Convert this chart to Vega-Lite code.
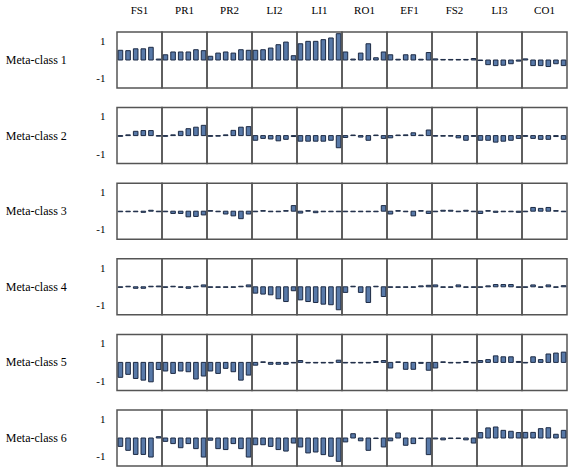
{
  "$schema": "https://vega.github.io/schema/vega-lite/v6.json",
  "padding": {"left": 5, "top": 5, "right": 2, "bottom": 2},
  "bounds": "flush",
  "data": {"values": [
    {"m":"Meta-class 1","a":"FS1","i":1,"v":0.52},{"m":"Meta-class 1","a":"FS1","i":2,"v":0.5},{"m":"Meta-class 1","a":"FS1","i":3,"v":0.6},{"m":"Meta-class 1","a":"FS1","i":4,"v":0.6},{"m":"Meta-class 1","a":"FS1","i":5,"v":0.68},{"m":"Meta-class 1","a":"FS1","i":6,"v":0.05},
    {"m":"Meta-class 1","a":"PR1","i":1,"v":0.28},{"m":"Meta-class 1","a":"PR1","i":2,"v":0.43},{"m":"Meta-class 1","a":"PR1","i":3,"v":0.43},{"m":"Meta-class 1","a":"PR1","i":4,"v":0.43},{"m":"Meta-class 1","a":"PR1","i":5,"v":0.55},{"m":"Meta-class 1","a":"PR1","i":6,"v":0.5},
    {"m":"Meta-class 1","a":"PR2","i":1,"v":0.2},{"m":"Meta-class 1","a":"PR2","i":2,"v":0.37},{"m":"Meta-class 1","a":"PR2","i":3,"v":0.43},{"m":"Meta-class 1","a":"PR2","i":4,"v":0.37},{"m":"Meta-class 1","a":"PR2","i":5,"v":0.55},{"m":"Meta-class 1","a":"PR2","i":6,"v":0.52},
    {"m":"Meta-class 1","a":"LI2","i":1,"v":0.52},{"m":"Meta-class 1","a":"LI2","i":2,"v":0.55},{"m":"Meta-class 1","a":"LI2","i":3,"v":0.64},{"m":"Meta-class 1","a":"LI2","i":4,"v":0.82},{"m":"Meta-class 1","a":"LI2","i":5,"v":0.96},{"m":"Meta-class 1","a":"LI2","i":6,"v":0.23},
    {"m":"Meta-class 1","a":"LI1","i":1,"v":0.87},{"m":"Meta-class 1","a":"LI1","i":2,"v":1.0},{"m":"Meta-class 1","a":"LI1","i":3,"v":1.0},{"m":"Meta-class 1","a":"LI1","i":4,"v":1.09},{"m":"Meta-class 1","a":"LI1","i":5,"v":1.18},{"m":"Meta-class 1","a":"LI1","i":6,"v":1.41},
    {"m":"Meta-class 1","a":"RO1","i":1,"v":0.43},{"m":"Meta-class 1","a":"RO1","i":2,"v":0.05},{"m":"Meta-class 1","a":"RO1","i":3,"v":0.37},{"m":"Meta-class 1","a":"RO1","i":4,"v":0.87},{"m":"Meta-class 1","a":"RO1","i":5,"v":0.12},{"m":"Meta-class 1","a":"RO1","i":6,"v":0.43},
    {"m":"Meta-class 1","a":"EF1","i":1,"v":0.28},{"m":"Meta-class 1","a":"EF1","i":2,"v":0.04},{"m":"Meta-class 1","a":"EF1","i":3,"v":0.28},{"m":"Meta-class 1","a":"EF1","i":4,"v":0.28},{"m":"Meta-class 1","a":"EF1","i":5,"v":0.04},{"m":"Meta-class 1","a":"EF1","i":6,"v":0.4},
    {"m":"Meta-class 1","a":"FS2","i":1,"v":0.06},{"m":"Meta-class 1","a":"FS2","i":2,"v":0.03},{"m":"Meta-class 1","a":"FS2","i":3,"v":0.03},{"m":"Meta-class 1","a":"FS2","i":4,"v":0.03},{"m":"Meta-class 1","a":"FS2","i":5,"v":0.03},{"m":"Meta-class 1","a":"FS2","i":6,"v":0.08},
    {"m":"Meta-class 1","a":"LI3","i":1,"v":-0.03},{"m":"Meta-class 1","a":"LI3","i":2,"v":-0.25},{"m":"Meta-class 1","a":"LI3","i":3,"v":-0.3},{"m":"Meta-class 1","a":"LI3","i":4,"v":-0.28},{"m":"Meta-class 1","a":"LI3","i":5,"v":-0.2},{"m":"Meta-class 1","a":"LI3","i":6,"v":-0.06},
    {"m":"Meta-class 1","a":"CO1","i":1,"v":0.06},{"m":"Meta-class 1","a":"CO1","i":2,"v":-0.3},{"m":"Meta-class 1","a":"CO1","i":3,"v":-0.3},{"m":"Meta-class 1","a":"CO1","i":4,"v":-0.35},{"m":"Meta-class 1","a":"CO1","i":5,"v":-0.2},{"m":"Meta-class 1","a":"CO1","i":6,"v":-0.3},

    {"m":"Meta-class 2","a":"FS1","i":1,"v":-0.04},{"m":"Meta-class 2","a":"FS1","i":2,"v":0.04},{"m":"Meta-class 2","a":"FS1","i":3,"v":0.23},{"m":"Meta-class 2","a":"FS1","i":4,"v":0.27},{"m":"Meta-class 2","a":"FS1","i":5,"v":0.27},{"m":"Meta-class 2","a":"FS1","i":6,"v":-0.03},
    {"m":"Meta-class 2","a":"PR1","i":1,"v":-0.04},{"m":"Meta-class 2","a":"PR1","i":2,"v":0.04},{"m":"Meta-class 2","a":"PR1","i":3,"v":0.23},{"m":"Meta-class 2","a":"PR1","i":4,"v":0.37},{"m":"Meta-class 2","a":"PR1","i":5,"v":0.45},{"m":"Meta-class 2","a":"PR1","i":6,"v":0.55},
    {"m":"Meta-class 2","a":"PR2","i":1,"v":-0.04},{"m":"Meta-class 2","a":"PR2","i":2,"v":-0.03},{"m":"Meta-class 2","a":"PR2","i":3,"v":0.04},{"m":"Meta-class 2","a":"PR2","i":4,"v":0.28},{"m":"Meta-class 2","a":"PR2","i":5,"v":0.45},{"m":"Meta-class 2","a":"PR2","i":6,"v":0.48},
    {"m":"Meta-class 2","a":"LI2","i":1,"v":-0.25},{"m":"Meta-class 2","a":"LI2","i":2,"v":-0.15},{"m":"Meta-class 2","a":"LI2","i":3,"v":-0.18},{"m":"Meta-class 2","a":"LI2","i":4,"v":-0.28},{"m":"Meta-class 2","a":"LI2","i":5,"v":-0.2},{"m":"Meta-class 2","a":"LI2","i":6,"v":-0.05},
    {"m":"Meta-class 2","a":"LI1","i":1,"v":-0.3},{"m":"Meta-class 2","a":"LI1","i":2,"v":-0.3},{"m":"Meta-class 2","a":"LI1","i":3,"v":-0.3},{"m":"Meta-class 2","a":"LI1","i":4,"v":-0.3},{"m":"Meta-class 2","a":"LI1","i":5,"v":-0.25},{"m":"Meta-class 2","a":"LI1","i":6,"v":-0.65},
    {"m":"Meta-class 2","a":"RO1","i":1,"v":-0.1},{"m":"Meta-class 2","a":"RO1","i":2,"v":0.03},{"m":"Meta-class 2","a":"RO1","i":3,"v":-0.08},{"m":"Meta-class 2","a":"RO1","i":4,"v":-0.25},{"m":"Meta-class 2","a":"RO1","i":5,"v":0.03},{"m":"Meta-class 2","a":"RO1","i":6,"v":-0.15},
    {"m":"Meta-class 2","a":"EF1","i":1,"v":-0.12},{"m":"Meta-class 2","a":"EF1","i":2,"v":0.03},{"m":"Meta-class 2","a":"EF1","i":3,"v":0.04},{"m":"Meta-class 2","a":"EF1","i":4,"v":0.15},{"m":"Meta-class 2","a":"EF1","i":5,"v":0.03},{"m":"Meta-class 2","a":"EF1","i":6,"v":0.3},
    {"m":"Meta-class 2","a":"FS2","i":1,"v":-0.03},{"m":"Meta-class 2","a":"FS2","i":2,"v":-0.03},{"m":"Meta-class 2","a":"FS2","i":3,"v":-0.03},{"m":"Meta-class 2","a":"FS2","i":4,"v":-0.12},{"m":"Meta-class 2","a":"FS2","i":5,"v":-0.25},{"m":"Meta-class 2","a":"FS2","i":6,"v":-0.04},
    {"m":"Meta-class 2","a":"LI3","i":1,"v":-0.25},{"m":"Meta-class 2","a":"LI3","i":2,"v":-0.25},{"m":"Meta-class 2","a":"LI3","i":3,"v":-0.35},{"m":"Meta-class 2","a":"LI3","i":4,"v":-0.3},{"m":"Meta-class 2","a":"LI3","i":5,"v":-0.25},{"m":"Meta-class 2","a":"LI3","i":6,"v":-0.15},
    {"m":"Meta-class 2","a":"CO1","i":1,"v":-0.04},{"m":"Meta-class 2","a":"CO1","i":2,"v":-0.15},{"m":"Meta-class 2","a":"CO1","i":3,"v":-0.2},{"m":"Meta-class 2","a":"CO1","i":4,"v":-0.2},{"m":"Meta-class 2","a":"CO1","i":5,"v":-0.05},{"m":"Meta-class 2","a":"CO1","i":6,"v":-0.2},

    {"m":"Meta-class 3","a":"FS1","i":1,"v":-0.03},{"m":"Meta-class 3","a":"FS1","i":2,"v":-0.03},{"m":"Meta-class 3","a":"FS1","i":3,"v":-0.03},{"m":"Meta-class 3","a":"FS1","i":4,"v":-0.06},{"m":"Meta-class 3","a":"FS1","i":5,"v":0.05},{"m":"Meta-class 3","a":"FS1","i":6,"v":-0.03},
    {"m":"Meta-class 3","a":"PR1","i":1,"v":-0.03},{"m":"Meta-class 3","a":"PR1","i":2,"v":-0.12},{"m":"Meta-class 3","a":"PR1","i":3,"v":-0.12},{"m":"Meta-class 3","a":"PR1","i":4,"v":-0.3},{"m":"Meta-class 3","a":"PR1","i":5,"v":-0.28},{"m":"Meta-class 3","a":"PR1","i":6,"v":-0.2},
    {"m":"Meta-class 3","a":"PR2","i":1,"v":0.03},{"m":"Meta-class 3","a":"PR2","i":2,"v":-0.03},{"m":"Meta-class 3","a":"PR2","i":3,"v":-0.15},{"m":"Meta-class 3","a":"PR2","i":4,"v":-0.25},{"m":"Meta-class 3","a":"PR2","i":5,"v":-0.4},{"m":"Meta-class 3","a":"PR2","i":6,"v":-0.15},
    {"m":"Meta-class 3","a":"LI2","i":1,"v":-0.03},{"m":"Meta-class 3","a":"LI2","i":2,"v":0.03},{"m":"Meta-class 3","a":"LI2","i":3,"v":-0.03},{"m":"Meta-class 3","a":"LI2","i":4,"v":-0.03},{"m":"Meta-class 3","a":"LI2","i":5,"v":0.03},{"m":"Meta-class 3","a":"LI2","i":6,"v":0.3},
    {"m":"Meta-class 3","a":"LI1","i":1,"v":-0.1},{"m":"Meta-class 3","a":"LI1","i":2,"v":0.03},{"m":"Meta-class 3","a":"LI1","i":3,"v":-0.08},{"m":"Meta-class 3","a":"LI1","i":4,"v":-0.03},{"m":"Meta-class 3","a":"LI1","i":5,"v":-0.03},{"m":"Meta-class 3","a":"LI1","i":6,"v":-0.03},
    {"m":"Meta-class 3","a":"RO1","i":1,"v":-0.03},{"m":"Meta-class 3","a":"RO1","i":2,"v":-0.03},{"m":"Meta-class 3","a":"RO1","i":3,"v":-0.03},{"m":"Meta-class 3","a":"RO1","i":4,"v":-0.03},{"m":"Meta-class 3","a":"RO1","i":5,"v":-0.03},{"m":"Meta-class 3","a":"RO1","i":6,"v":0.3},
    {"m":"Meta-class 3","a":"EF1","i":1,"v":-0.15},{"m":"Meta-class 3","a":"EF1","i":2,"v":0.03},{"m":"Meta-class 3","a":"EF1","i":3,"v":-0.03},{"m":"Meta-class 3","a":"EF1","i":4,"v":-0.25},{"m":"Meta-class 3","a":"EF1","i":5,"v":0.03},{"m":"Meta-class 3","a":"EF1","i":6,"v":-0.12},
    {"m":"Meta-class 3","a":"FS2","i":1,"v":-0.03},{"m":"Meta-class 3","a":"FS2","i":2,"v":0.05},{"m":"Meta-class 3","a":"FS2","i":3,"v":0.05},{"m":"Meta-class 3","a":"FS2","i":4,"v":-0.03},{"m":"Meta-class 3","a":"FS2","i":5,"v":0.05},{"m":"Meta-class 3","a":"FS2","i":6,"v":-0.03},
    {"m":"Meta-class 3","a":"LI3","i":1,"v":-0.12},{"m":"Meta-class 3","a":"LI3","i":2,"v":0.03},{"m":"Meta-class 3","a":"LI3","i":3,"v":-0.06},{"m":"Meta-class 3","a":"LI3","i":4,"v":-0.03},{"m":"Meta-class 3","a":"LI3","i":5,"v":-0.03},{"m":"Meta-class 3","a":"LI3","i":6,"v":-0.06},
    {"m":"Meta-class 3","a":"CO1","i":1,"v":-0.03},{"m":"Meta-class 3","a":"CO1","i":2,"v":0.2},{"m":"Meta-class 3","a":"CO1","i":3,"v":0.15},{"m":"Meta-class 3","a":"CO1","i":4,"v":0.2},{"m":"Meta-class 3","a":"CO1","i":5,"v":0.03},{"m":"Meta-class 3","a":"CO1","i":6,"v":-0.03},

    {"m":"Meta-class 4","a":"FS1","i":1,"v":-0.03},{"m":"Meta-class 4","a":"FS1","i":2,"v":0.03},{"m":"Meta-class 4","a":"FS1","i":3,"v":-0.08},{"m":"Meta-class 4","a":"FS1","i":4,"v":-0.08},{"m":"Meta-class 4","a":"FS1","i":5,"v":0.03},{"m":"Meta-class 4","a":"FS1","i":6,"v":0.04},
    {"m":"Meta-class 4","a":"PR1","i":1,"v":-0.03},{"m":"Meta-class 4","a":"PR1","i":2,"v":0.03},{"m":"Meta-class 4","a":"PR1","i":3,"v":-0.03},{"m":"Meta-class 4","a":"PR1","i":4,"v":-0.08},{"m":"Meta-class 4","a":"PR1","i":5,"v":0.03},{"m":"Meta-class 4","a":"PR1","i":6,"v":0.1},
    {"m":"Meta-class 4","a":"PR2","i":1,"v":-0.03},{"m":"Meta-class 4","a":"PR2","i":2,"v":-0.03},{"m":"Meta-class 4","a":"PR2","i":3,"v":-0.03},{"m":"Meta-class 4","a":"PR2","i":4,"v":-0.03},{"m":"Meta-class 4","a":"PR2","i":5,"v":0.03},{"m":"Meta-class 4","a":"PR2","i":6,"v":0.1},
    {"m":"Meta-class 4","a":"LI2","i":1,"v":-0.34},{"m":"Meta-class 4","a":"LI2","i":2,"v":-0.39},{"m":"Meta-class 4","a":"LI2","i":3,"v":-0.43},{"m":"Meta-class 4","a":"LI2","i":4,"v":-0.64},{"m":"Meta-class 4","a":"LI2","i":5,"v":-0.79},{"m":"Meta-class 4","a":"LI2","i":6,"v":-0.21},
    {"m":"Meta-class 4","a":"LI1","i":1,"v":-0.7},{"m":"Meta-class 4","a":"LI1","i":2,"v":-0.79},{"m":"Meta-class 4","a":"LI1","i":3,"v":-0.84},{"m":"Meta-class 4","a":"LI1","i":4,"v":-0.93},{"m":"Meta-class 4","a":"LI1","i":5,"v":-0.96},{"m":"Meta-class 4","a":"LI1","i":6,"v":-1.23},
    {"m":"Meta-class 4","a":"RO1","i":1,"v":-0.3},{"m":"Meta-class 4","a":"RO1","i":2,"v":0.03},{"m":"Meta-class 4","a":"RO1","i":3,"v":-0.3},{"m":"Meta-class 4","a":"RO1","i":4,"v":-0.84},{"m":"Meta-class 4","a":"RO1","i":5,"v":0.03},{"m":"Meta-class 4","a":"RO1","i":6,"v":-0.52},
    {"m":"Meta-class 4","a":"EF1","i":1,"v":-0.03},{"m":"Meta-class 4","a":"EF1","i":2,"v":-0.03},{"m":"Meta-class 4","a":"EF1","i":3,"v":-0.03},{"m":"Meta-class 4","a":"EF1","i":4,"v":-0.03},{"m":"Meta-class 4","a":"EF1","i":5,"v":0.05},{"m":"Meta-class 4","a":"EF1","i":6,"v":0.08},
    {"m":"Meta-class 4","a":"FS2","i":1,"v":0.1},{"m":"Meta-class 4","a":"FS2","i":2,"v":-0.03},{"m":"Meta-class 4","a":"FS2","i":3,"v":-0.03},{"m":"Meta-class 4","a":"FS2","i":4,"v":0.1},{"m":"Meta-class 4","a":"FS2","i":5,"v":-0.03},{"m":"Meta-class 4","a":"FS2","i":6,"v":-0.03},
    {"m":"Meta-class 4","a":"LI3","i":1,"v":-0.03},{"m":"Meta-class 4","a":"LI3","i":2,"v":0.05},{"m":"Meta-class 4","a":"LI3","i":3,"v":0.12},{"m":"Meta-class 4","a":"LI3","i":4,"v":0.12},{"m":"Meta-class 4","a":"LI3","i":5,"v":0.12},{"m":"Meta-class 4","a":"LI3","i":6,"v":-0.03},
    {"m":"Meta-class 4","a":"CO1","i":1,"v":-0.03},{"m":"Meta-class 4","a":"CO1","i":2,"v":0.1},{"m":"Meta-class 4","a":"CO1","i":3,"v":-0.03},{"m":"Meta-class 4","a":"CO1","i":4,"v":0.1},{"m":"Meta-class 4","a":"CO1","i":5,"v":-0.03},{"m":"Meta-class 4","a":"CO1","i":6,"v":0.06},

    {"m":"Meta-class 5","a":"FS1","i":1,"v":-0.8},{"m":"Meta-class 5","a":"FS1","i":2,"v":-0.64},{"m":"Meta-class 5","a":"FS1","i":3,"v":-0.86},{"m":"Meta-class 5","a":"FS1","i":4,"v":-0.95},{"m":"Meta-class 5","a":"FS1","i":5,"v":-1.04},{"m":"Meta-class 5","a":"FS1","i":6,"v":-0.38},
    {"m":"Meta-class 5","a":"PR1","i":1,"v":-0.46},{"m":"Meta-class 5","a":"PR1","i":2,"v":-0.59},{"m":"Meta-class 5","a":"PR1","i":3,"v":-0.46},{"m":"Meta-class 5","a":"PR1","i":4,"v":-0.5},{"m":"Meta-class 5","a":"PR1","i":5,"v":-0.89},{"m":"Meta-class 5","a":"PR1","i":6,"v":-0.73},
    {"m":"Meta-class 5","a":"PR2","i":1,"v":-0.46},{"m":"Meta-class 5","a":"PR2","i":2,"v":-0.59},{"m":"Meta-class 5","a":"PR2","i":3,"v":-0.32},{"m":"Meta-class 5","a":"PR2","i":4,"v":-0.5},{"m":"Meta-class 5","a":"PR2","i":5,"v":-0.95},{"m":"Meta-class 5","a":"PR2","i":6,"v":-0.68},
    {"m":"Meta-class 5","a":"LI2","i":1,"v":-0.15},{"m":"Meta-class 5","a":"LI2","i":2,"v":0.03},{"m":"Meta-class 5","a":"LI2","i":3,"v":-0.1},{"m":"Meta-class 5","a":"LI2","i":4,"v":-0.1},{"m":"Meta-class 5","a":"LI2","i":5,"v":-0.1},{"m":"Meta-class 5","a":"LI2","i":6,"v":-0.03},
    {"m":"Meta-class 5","a":"LI1","i":1,"v":0.1},{"m":"Meta-class 5","a":"LI1","i":2,"v":-0.03},{"m":"Meta-class 5","a":"LI1","i":3,"v":-0.03},{"m":"Meta-class 5","a":"LI1","i":4,"v":-0.03},{"m":"Meta-class 5","a":"LI1","i":5,"v":-0.03},{"m":"Meta-class 5","a":"LI1","i":6,"v":0.12},
    {"m":"Meta-class 5","a":"RO1","i":1,"v":-0.03},{"m":"Meta-class 5","a":"RO1","i":2,"v":-0.03},{"m":"Meta-class 5","a":"RO1","i":3,"v":-0.03},{"m":"Meta-class 5","a":"RO1","i":4,"v":-0.03},{"m":"Meta-class 5","a":"RO1","i":5,"v":0.05},{"m":"Meta-class 5","a":"RO1","i":6,"v":0.1},
    {"m":"Meta-class 5","a":"EF1","i":1,"v":-0.3},{"m":"Meta-class 5","a":"EF1","i":2,"v":0.03},{"m":"Meta-class 5","a":"EF1","i":3,"v":-0.37},{"m":"Meta-class 5","a":"EF1","i":4,"v":-0.37},{"m":"Meta-class 5","a":"EF1","i":5,"v":-0.05},{"m":"Meta-class 5","a":"EF1","i":6,"v":-0.42},
    {"m":"Meta-class 5","a":"FS2","i":1,"v":-0.3},{"m":"Meta-class 5","a":"FS2","i":2,"v":0.03},{"m":"Meta-class 5","a":"FS2","i":3,"v":-0.03},{"m":"Meta-class 5","a":"FS2","i":4,"v":-0.03},{"m":"Meta-class 5","a":"FS2","i":5,"v":0.05},{"m":"Meta-class 5","a":"FS2","i":6,"v":-0.03},
    {"m":"Meta-class 5","a":"LI3","i":1,"v":0.1},{"m":"Meta-class 5","a":"LI3","i":2,"v":0.15},{"m":"Meta-class 5","a":"LI3","i":3,"v":0.35},{"m":"Meta-class 5","a":"LI3","i":4,"v":0.3},{"m":"Meta-class 5","a":"LI3","i":5,"v":0.3},{"m":"Meta-class 5","a":"LI3","i":6,"v":0.05},
    {"m":"Meta-class 5","a":"CO1","i":1,"v":-0.03},{"m":"Meta-class 5","a":"CO1","i":2,"v":0.3},{"m":"Meta-class 5","a":"CO1","i":3,"v":0.15},{"m":"Meta-class 5","a":"CO1","i":4,"v":0.45},{"m":"Meta-class 5","a":"CO1","i":5,"v":0.5},{"m":"Meta-class 5","a":"CO1","i":6,"v":0.55},

    {"m":"Meta-class 6","a":"FS1","i":1,"v":-0.45},{"m":"Meta-class 6","a":"FS1","i":2,"v":-0.66},{"m":"Meta-class 6","a":"FS1","i":3,"v":-0.88},{"m":"Meta-class 6","a":"FS1","i":4,"v":-0.88},{"m":"Meta-class 6","a":"FS1","i":5,"v":-1.02},{"m":"Meta-class 6","a":"FS1","i":6,"v":0.07},
    {"m":"Meta-class 6","a":"PR1","i":1,"v":-0.18},{"m":"Meta-class 6","a":"PR1","i":2,"v":-0.3},{"m":"Meta-class 6","a":"PR1","i":3,"v":-0.52},{"m":"Meta-class 6","a":"PR1","i":4,"v":-0.3},{"m":"Meta-class 6","a":"PR1","i":5,"v":-0.57},{"m":"Meta-class 6","a":"PR1","i":6,"v":-1.02},
    {"m":"Meta-class 6","a":"PR2","i":1,"v":-0.12},{"m":"Meta-class 6","a":"PR2","i":2,"v":-0.57},{"m":"Meta-class 6","a":"PR2","i":3,"v":-0.62},{"m":"Meta-class 6","a":"PR2","i":4,"v":-0.3},{"m":"Meta-class 6","a":"PR2","i":5,"v":-0.57},{"m":"Meta-class 6","a":"PR2","i":6,"v":-1.02},
    {"m":"Meta-class 6","a":"LI2","i":1,"v":-0.36},{"m":"Meta-class 6","a":"LI2","i":2,"v":-0.36},{"m":"Meta-class 6","a":"LI2","i":3,"v":-0.45},{"m":"Meta-class 6","a":"LI2","i":4,"v":-0.62},{"m":"Meta-class 6","a":"LI2","i":5,"v":-0.7},{"m":"Meta-class 6","a":"LI2","i":6,"v":-0.27},
    {"m":"Meta-class 6","a":"LI1","i":1,"v":-0.48},{"m":"Meta-class 6","a":"LI1","i":2,"v":-0.8},{"m":"Meta-class 6","a":"LI1","i":3,"v":-0.75},{"m":"Meta-class 6","a":"LI1","i":4,"v":-0.89},{"m":"Meta-class 6","a":"LI1","i":5,"v":-0.98},{"m":"Meta-class 6","a":"LI1","i":6,"v":-1.25},
    {"m":"Meta-class 6","a":"RO1","i":1,"v":-0.21},{"m":"Meta-class 6","a":"RO1","i":2,"v":0.23},{"m":"Meta-class 6","a":"RO1","i":3,"v":-0.15},{"m":"Meta-class 6","a":"RO1","i":4,"v":-0.66},{"m":"Meta-class 6","a":"RO1","i":5,"v":-0.03},{"m":"Meta-class 6","a":"RO1","i":6,"v":-0.48},
    {"m":"Meta-class 6","a":"EF1","i":1,"v":-0.15},{"m":"Meta-class 6","a":"EF1","i":2,"v":0.27},{"m":"Meta-class 6","a":"EF1","i":3,"v":-0.39},{"m":"Meta-class 6","a":"EF1","i":4,"v":-0.3},{"m":"Meta-class 6","a":"EF1","i":5,"v":-0.03},{"m":"Meta-class 6","a":"EF1","i":6,"v":-0.89},
    {"m":"Meta-class 6","a":"FS2","i":1,"v":-0.05},{"m":"Meta-class 6","a":"FS2","i":2,"v":-0.1},{"m":"Meta-class 6","a":"FS2","i":3,"v":-0.03},{"m":"Meta-class 6","a":"FS2","i":4,"v":-0.03},{"m":"Meta-class 6","a":"FS2","i":5,"v":-0.1},{"m":"Meta-class 6","a":"FS2","i":6,"v":-0.27},
    {"m":"Meta-class 6","a":"LI3","i":1,"v":0.29},{"m":"Meta-class 6","a":"LI3","i":2,"v":0.54},{"m":"Meta-class 6","a":"LI3","i":3,"v":0.59},{"m":"Meta-class 6","a":"LI3","i":4,"v":0.41},{"m":"Meta-class 6","a":"LI3","i":5,"v":0.36},{"m":"Meta-class 6","a":"LI3","i":6,"v":0.29},
    {"m":"Meta-class 6","a":"CO1","i":1,"v":0.3},{"m":"Meta-class 6","a":"CO1","i":2,"v":0.3},{"m":"Meta-class 6","a":"CO1","i":3,"v":0.5},{"m":"Meta-class 6","a":"CO1","i":4,"v":0.55},{"m":"Meta-class 6","a":"CO1","i":5,"v":0.2},{"m":"Meta-class 6","a":"CO1","i":6,"v":0.41}
  ]},
  "facet": {
    "row": {"field": "m", "type": "nominal", "title": null,
      "header": {"labelAngle": 0, "labelAlign": "left", "labelFont": "Liberation Serif", "labelFontSize": 12, "labelColor": "black", "labelPadding": 29}},
    "column": {"field": "a", "type": "nominal", "title": null,
      "sort": ["FS1","PR1","PR2","LI2","LI1","RO1","EF1","FS2","LI3","CO1"],
      "header": {"labelOrient": "top", "labelFont": "Liberation Serif", "labelFontSize": 11, "labelColor": "black", "labelPadding": 16}}
  },
  "spacing": {"row": 19.6, "column": 0},
  "spec": {
    "width": 45,
    "height": 56,
    "mark": {"type": "bar", "fill": "#5879a8", "stroke": "#1c2a44", "strokeWidth": 1},
    "encoding": {
      "x": {"field": "i", "type": "ordinal", "axis": null, "scale": {"paddingInner": 0.4, "paddingOuter": 0.15}},
      "y": {"field": "v", "type": "quantitative", "scale": {"domain": [-1.5, 1.5], "nice": false},
        "axis": {"values": [-1, 1], "labelExpr": "datum.value > 0 ? '1' : '-1'", "title": null, "grid": false, "domain": false, "ticks": false, "labelFont": "Liberation Serif", "labelFontSize": 11, "labelColor": "black", "labelPadding": 12}}
    }
  },
  "config": {"view": {"stroke": "#555555", "strokeWidth": 1.5}}
}
